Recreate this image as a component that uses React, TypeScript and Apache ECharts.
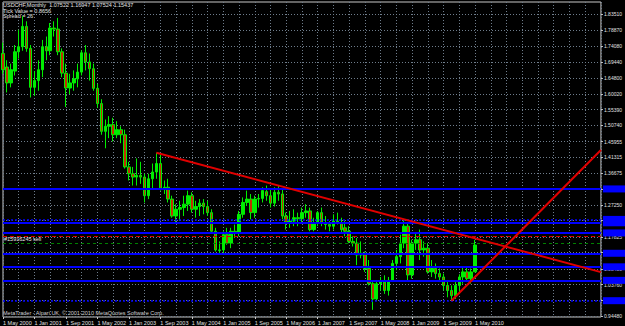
import React, { useEffect, useRef } from "react";
import * as echarts from "echarts";

const monthNames = ["Jan", "Feb", "Mar", "Apr", "May", "Jun", "Jul", "Aug", "Sep", "Oct", "Nov", "Dec"];
const slotCount = 153; // May 2000 .. Jan 2013 (chart shift area included)
const categories = Array.from({ length: slotCount }, (_, i) => {
  const m = (4 + i) % 12;
  const y = 2000 + Math.floor((4 + i) / 12);
  return `1 ${monthNames[m]} ${y}`;
});

const opens = [
  1.720, 1.680, 1.633, 1.668, 1.725, 1.740, 1.800, 1.735, 1.620, 1.640, 1.672, 1.740, 1.728, 1.795, 1.792, 1.725,
  1.662, 1.618, 1.633, 1.645, 1.665, 1.722, 1.695, 1.675, 1.617, 1.572, 1.490, 1.505, 1.510, 1.480, 1.495, 1.480,
  1.385, 1.365, 1.355, 1.360, 1.355, 1.300, 1.350, 1.370, 1.395, 1.322, 1.325, 1.290, 1.240, 1.260, 1.265, 1.275,
  1.300, 1.260, 1.268, 1.278, 1.268, 1.250, 1.195, 1.140, 1.140, 1.185, 1.160, 1.195, 1.190, 1.245, 1.280, 1.290,
  1.250, 1.290, 1.292, 1.312, 1.300, 1.278, 1.310, 1.305, 1.240, 1.222, 1.225, 1.235, 1.232, 1.250, 1.255, 1.200,
  1.220, 1.250, 1.220, 1.215, 1.210, 1.225, 1.220, 1.205, 1.195, 1.165, 1.160, 1.125, 1.130, 1.085, 1.040, 0.995,
  1.040, 1.045, 1.020, 1.050, 1.100, 1.120, 1.160, 1.210, 1.066, 1.160, 1.170, 1.140, 1.145, 1.075, 1.085, 1.070,
  1.060, 1.035, 1.020, 1.005, 1.035, 1.060, 1.075, 1.055, 1.07522,
];
const closes = [
  1.672, 1.633, 1.672, 1.725, 1.740, 1.800, 1.735, 1.620, 1.640, 1.672, 1.740, 1.728, 1.795, 1.792, 1.725, 1.662,
  1.618, 1.633, 1.645, 1.665, 1.722, 1.695, 1.675, 1.617, 1.572, 1.490, 1.505, 1.510, 1.480, 1.495, 1.480, 1.385,
  1.365, 1.355, 1.360, 1.355, 1.300, 1.350, 1.370, 1.395, 1.322, 1.325, 1.290, 1.240, 1.260, 1.265, 1.275, 1.300,
  1.260, 1.268, 1.278, 1.268, 1.250, 1.195, 1.140, 1.138, 1.185, 1.160, 1.195, 1.190, 1.245, 1.280, 1.290, 1.250,
  1.290, 1.292, 1.315, 1.300, 1.278, 1.310, 1.305, 1.240, 1.222, 1.225, 1.235, 1.232, 1.250, 1.255, 1.200, 1.220,
  1.250, 1.220, 1.215, 1.210, 1.225, 1.220, 1.200, 1.195, 1.165, 1.160, 1.125, 1.130, 1.085, 1.040, 0.995, 1.040,
  1.045, 1.020, 1.050, 1.100, 1.120, 1.160, 1.210, 1.066, 1.160, 1.170, 1.140, 1.145, 1.075, 1.085, 1.070, 1.060,
  1.035, 1.020, 1.005, 1.035, 1.060, 1.075, 1.055, 1.075, 1.15437,
];
const lows = [
  1.660, 1.605, 1.620, 1.655, 1.705, 1.728, 1.725, 1.590, 1.595, 1.610, 1.650, 1.700, 1.715, 1.770, 1.715, 1.650,
  1.562, 1.600, 1.610, 1.620, 1.655, 1.670, 1.640, 1.610, 1.560, 1.480, 1.440, 1.470, 1.460, 1.470, 1.455, 1.380,
  1.345, 1.330, 1.330, 1.335, 1.280, 1.290, 1.320, 1.350, 1.315, 1.305, 1.280, 1.235, 1.220, 1.225, 1.240, 1.255,
  1.250, 1.235, 1.240, 1.245, 1.240, 1.190, 1.135, 1.125, 1.130, 1.155, 1.145, 1.175, 1.180, 1.235, 1.270, 1.230,
  1.235, 1.265, 1.280, 1.285, 1.265, 1.268, 1.285, 1.230, 1.200, 1.205, 1.210, 1.210, 1.220, 1.235, 1.195, 1.195,
  1.210, 1.210, 1.200, 1.195, 1.200, 1.215, 1.190, 1.180, 1.160, 1.150, 1.095, 1.115, 1.075, 1.035, 0.963, 0.990,
  1.020, 1.010, 1.005, 1.045, 1.080, 1.100, 1.145, 1.050, 1.055, 1.140, 1.110, 1.120, 1.070, 1.060, 1.055, 1.045,
  1.020, 1.000, 0.990, 0.995, 1.015, 1.040, 1.045, 1.040, 1.07522,
];
const highs = [
  1.752, 1.700, 1.690, 1.745, 1.790, 1.830, 1.815, 1.745, 1.668, 1.700, 1.760, 1.770, 1.810, 1.815, 1.825, 1.735,
  1.690, 1.660, 1.670, 1.690, 1.730, 1.745, 1.720, 1.690, 1.630, 1.585, 1.525, 1.535, 1.530, 1.520, 1.505, 1.495,
  1.400, 1.385, 1.410, 1.400, 1.365, 1.365, 1.395, 1.427, 1.420, 1.345, 1.350, 1.300, 1.275, 1.285, 1.300, 1.315,
  1.310, 1.285, 1.290, 1.290, 1.285, 1.260, 1.205, 1.165, 1.195, 1.205, 1.205, 1.215, 1.255, 1.295, 1.315, 1.305,
  1.300, 1.305, 1.325, 1.330, 1.320, 1.325, 1.330, 1.320, 1.250, 1.255, 1.260, 1.250, 1.265, 1.275, 1.265, 1.235,
  1.255, 1.265, 1.240, 1.225, 1.245, 1.250, 1.235, 1.225, 1.210, 1.180, 1.175, 1.165, 1.135, 1.110, 1.045, 1.045,
  1.060, 1.065, 1.060, 1.110, 1.140, 1.185, 1.230, 1.220, 1.170, 1.190, 1.200, 1.165, 1.160, 1.110, 1.100, 1.085,
  1.070, 1.045, 1.035, 1.045, 1.068, 1.090, 1.090, 1.085, 1.16947,
];

// price grid lines (every level) and the price labels that stay visible (others sit under line tags)
const priceTicks = [
  1.8351, 1.7887, 1.7408, 1.6944, 1.648, 1.6002, 1.5539, 1.5074, 1.45955, 1.41315, 1.36675, 1.3203, 1.2725,
  1.2261, 1.17825, 1.13185, 1.084, 1.0376, 0.9912, 0.9448,
];
const priceLabels = [
  1.8351, 1.7887, 1.7408, 1.6944, 1.648, 1.6002, 1.5539, 1.5074, 1.45955, 1.41315, 1.36675, 1.2725, 1.17825,
  1.084, 1.0376, 0.9448,
];

// horizontal objects
const blueSolidLevels = [1.3212, 1.2164, 1.1898, 1.1278, 1.0894, 1.0481];
const blueDottedLevels = [1.2267, 0.989];
const stopLevel = 1.175;
const orderLevel = 1.1558;
const bidPrice = 1.15437;

// trend lines: [category index, price]
const downTrend = [
  [39, 1.4269],
  [152, 1.0743],
];
const upTrend = [
  [114, 0.9898],
  [152, 1.4349],
];

const FONT = "Liberation Sans, Arial, sans-serif";

export default function App() {
  const ref = useRef<HTMLDivElement>(null);
  useEffect(() => {
    if (!ref.current) return;
    const chart = echarts.init(ref.current, null, { renderer: "svg" });
    const gridColor = "#6f7d8c";
    const blueTag = {
      show: true,
      position: "end",
      distance: 2,
      formatter: "\u2007\u2007\u2007\u2007\u2007\u2007",
      fontSize: 5,
      fontFamily: FONT,
      color: "#0000ff",
      backgroundColor: "#0000ff",
      padding: [1, 4, 1, 2],
    };
    const markData: any[] = [];
    blueSolidLevels.forEach((v) =>
      markData.push({ yAxis: v, lineStyle: { color: "#0000ff", width: 2, type: "solid" }, label: blueTag })
    );
    blueDottedLevels.forEach((v) =>
      markData.push({ yAxis: v, lineStyle: { color: "#0000ff", width: 1.5, type: [2, 2] }, label: blueTag })
    );
    markData.push({ yAxis: stopLevel, lineStyle: { color: "#d00000", width: 1, type: [4, 3] }, label: { show: false } });
    markData.push({
      yAxis: orderLevel,
      lineStyle: { color: "#008000", width: 1, type: [3, 3] },
      label: {
        show: true,
        position: "insideStartTop",
        distance: 1,
        formatter: "#15916245 sell",
        fontSize: 5.5,
        fontFamily: FONT,
        color: "#e8e8e8",
      },
    });
    markData.push({
      yAxis: bidPrice,
      lineStyle: { opacity: 0, width: 0 },
      label: {
        show: true,
        position: "end",
        distance: 2,
        formatter: bidPrice.toFixed(5),
        fontSize: 5,
        fontFamily: FONT,
        color: "#000000",
        backgroundColor: "#ffffff",
        padding: [1, 2, 1, 2],
      },
    });

    const tickShow = (i: number) => i % 8 === 0 && i <= 120;

    chart.setOption({
      animation: false,
      backgroundColor: "#000000",
      textStyle: { fontFamily: FONT },
      grid: {
        left: 1.5,
        right: 19,
        top: 2,
        bottom: 9,
        show: true,
        borderColor: "#c8c8c8",
        borderWidth: 1,
        backgroundColor: "transparent",
      },
      xAxis: {
        type: "category",
        data: categories,
        boundaryGap: false,
        axisLine: { show: false },
        axisTick: { show: true, length: 2, interval: tickShow, lineStyle: { color: "#c8c8c8" } },
        axisLabel: {
          interval: tickShow,
          align: "left",
          margin: 2.5,
          fontSize: 5.5,
          fontFamily: FONT,
          color: "#e0e0e0",
        },
        splitLine: {
          show: true,
          interval: (i: number) => i % 4 === 0,
          lineStyle: { color: gridColor, type: [1, 2], width: 1 },
        },
      },
      yAxis: {
        type: "value",
        position: "right",
        min: 0.9418,
        max: 1.872,
        axisLine: { show: false },
        axisTick: { show: true, length: 2, customValues: priceTicks, lineStyle: { color: "#c8c8c8" } },
        axisLabel: {
          customValues: priceLabels,
          formatter: (v: number) => v.toFixed(5),
          fontSize: 5,
          fontFamily: FONT,
          color: "#e0e0e0",
          margin: 3,
        },
        splitLine: { show: true, lineStyle: { color: gridColor, type: [1, 2], width: 1 } },
      },
      graphic: [
        {
          type: "text",
          left: 3,
          top: 2,
          style: {
            text: "USDCHF,Monthly  1.07522 1.16947 1.07524 1.15437",
            fill: "#e0e0e0",
            font: `5.5px ${FONT}`,
          },
        },
        { type: "text", left: 3, top: 7.5, style: { text: "Tick Value = 0.8656", fill: "#e0e0e0", font: `5.5px ${FONT}` } },
        { type: "text", left: 3, top: 13, style: { text: "Spread = 26", fill: "#e0e0e0", font: `5.5px ${FONT}` } },
        {
          type: "text",
          left: 3,
          top: 309.5,
          style: {
            text: "MetaTrader - Alpari UK, © 2001-2010 MetaQuotes Software Corp.",
            fill: "#d0d0d0",
            font: `5.5px ${FONT}`,
          },
        },
      ],
      series: [
        {
          type: "candlestick",
          data: opens.map((o, i) => [o, closes[i], lows[i], highs[i]]),
          barWidth: 3,
          clip: false,
          z: 2,
          itemStyle: {
            color: "#00ee00",
            color0: "#c03000",
            borderColor: "#00ee00",
            borderColor0: "#00ee00",
            borderWidth: 1,
          },
        },
        {
          type: "line",
          data: downTrend,
          symbol: "none",
          z: 5,
          lineStyle: { color: "#e00000", width: 2 },
          markLine: { symbol: ["none", "none"], silent: true, animation: false, data: markData },
        },
        {
          type: "line",
          data: upTrend,
          symbol: "none",
          z: 5,
          lineStyle: { color: "#e00000", width: 2 },
        },
      ],
    });
    return () => chart.dispose();
  }, []);
  return (
    <div
      ref={ref}
      style={{ position: "fixed", left: 0, top: 0, width: 625, height: 326, background: "#000" }}
    />
  );
}
